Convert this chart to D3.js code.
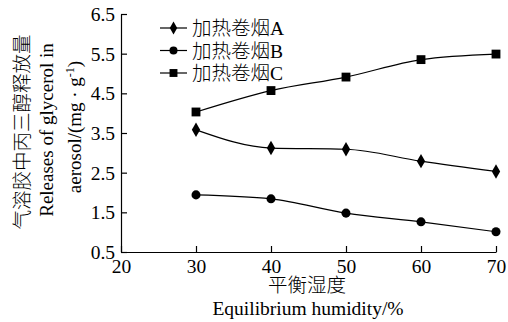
<!DOCTYPE html>
<html>
<head>
    <meta charset="utf-8">
    <script src="https://d3js.org/d3.v7.min.js"></script>
    <style>
        body { margin: 0; background: #fff; }
        svg { display: block; }
    </style>
</head>
<body>
    <svg width="508" height="322" id="chart"></svg>
    <script>
        // data
        const humidity = [30, 40, 50, 60, 70];
        const seriesNames = ["加热卷烟A", "加热卷烟B", "加热卷烟C"];
        const valuesA = [3.58, 3.12, 3.09, 2.79, 2.53];
        const valuesB = [1.94, 1.84, 1.48, 1.26, 1.01];
        const valuesC = [4.03, 4.57, 4.91, 5.35, 5.49];
        const xTicks = [20, 30, 40, 50, 60, 70];
        const yTicks = [0.5, 1.5, 2.5, 3.5, 4.5, 5.5, 6.5];

        // Latin in a Times-like serif, CJK falls through to Noto
        const FONT = "'Liberation Serif', 'Times New Roman', 'DejaVu Serif', 'Noto Sans CJK SC', serif";
        const FS = "19.5px";

        const svg = d3.select("#chart");
        const plotLeft = 121, plotRight = 496, plotTop = 14, plotBottom = 252;

        const x = d3.scaleLinear().domain([20, 70]).range([plotLeft, plotRight]);
        const y = d3.scaleLinear().domain([0.5, 6.5]).range([plotBottom, plotTop]);

        // axes, ticks pointing inward
        const xAxis = d3.axisBottom(x).tickValues(xTicks).tickSizeInner(-6).tickSizeOuter(0).tickPadding(8);
        const yAxis = d3.axisLeft(y).tickValues(yTicks).tickSizeInner(-6).tickSizeOuter(0).tickPadding(6)
            .tickFormat(d3.format(".1f"));

        const gx = svg.append("g").attr("transform", `translate(0,${plotBottom})`).call(xAxis);
        const gy = svg.append("g").attr("transform", `translate(${plotLeft},0)`).call(yAxis);
        [gx, gy].forEach(g => {
            g.attr("font-family", null).attr("font-size", null);
            g.selectAll("path, line").attr("stroke", "#000").attr("stroke-width", 1.2);
            g.selectAll("text").style("font-family", FONT).style("font-size", FS).attr("fill", "#000");
        });
        gx.selectAll("text").attr("dy", "0.66em");
        gy.selectAll("text").attr("dy", "0.33em");

        // series
        const series = [
            { name: seriesNames[0], values: valuesA, shape: d3.symbolDiamond, size: 60 },
            { name: seriesNames[1], values: valuesB, shape: d3.symbolCircle, size: 64 },
            { name: seriesNames[2], values: valuesC, shape: d3.symbolSquare, size: 78 }
        ];

        const line = d3.line()
            .x((d, i) => x(humidity[i]))
            .y(d => y(d))
            .curve(d3.curveMonotoneX);

        series.forEach(s => {
            svg.append("path")
                .attr("d", line(s.values))
                .attr("fill", "none")
                .attr("stroke", "#000")
                .attr("stroke-width", 1.2);
            svg.append("g").selectAll("path")
                .data(s.values)
                .enter().append("path")
                .attr("transform", (d, i) => `translate(${x(humidity[i])},${y(d)})`)
                .attr("d", d3.symbol().type(s.shape).size(s.size))
                .attr("fill", "#000");
        });

        // legend
        const legend = svg.append("g").attr("transform", "translate(160,28)");
        series.forEach((s, i) => {
            const row = legend.append("g").attr("transform", `translate(0,${i * 22.5})`);
            row.append("line").attr("x1", 0).attr("x2", 27).attr("stroke", "#000").attr("stroke-width", 1.2);
            row.append("path").attr("transform", "translate(13.5,0)")
                .attr("d", d3.symbol().type(s.shape).size(s.size * 0.8)).attr("fill", "#000");
            row.append("text").attr("x", 32).attr("dy", "0.36em")
                .style("font-family", FONT).style("font-size", FS).style("font-weight", 300)
                .text(s.name);
        });

        // axis titles
        svg.append("text")
            .attr("transform", "translate(29,132) rotate(-90)")
            .attr("text-anchor", "middle")
            .style("font-family", FONT).style("font-size", FS).style("font-weight", 300)
            .text("气溶胶中丙三醇释放量");
        svg.append("text")
            .attr("transform", "translate(53,130) rotate(-90)")
            .attr("text-anchor", "middle")
            .style("font-family", FONT).style("font-size", "19px")
            .text("Releases of glycerol in");
        const yt = svg.append("text")
            .attr("transform", "translate(81,127) rotate(-90)")
            .attr("text-anchor", "middle")
            .style("font-family", FONT).style("font-size", "19px");
        yt.append("tspan").text("aerosol/(mg · g");
        yt.append("tspan").style("font-size", "12px").attr("dy", -7).text("-1");
        yt.append("tspan").attr("dy", 7).text(")");

        svg.append("text")
            .attr("x", 307).attr("y", 292)
            .attr("text-anchor", "middle")
            .style("font-family", FONT).style("font-size", FS).style("font-weight", 300)
            .text("平衡湿度");
        svg.append("text")
            .attr("x", 308).attr("y", 315)
            .attr("text-anchor", "middle")
            .style("font-family", FONT).style("font-size", FS)
            .text("Equilibrium humidity/%");
    </script>
</body>
</html>
